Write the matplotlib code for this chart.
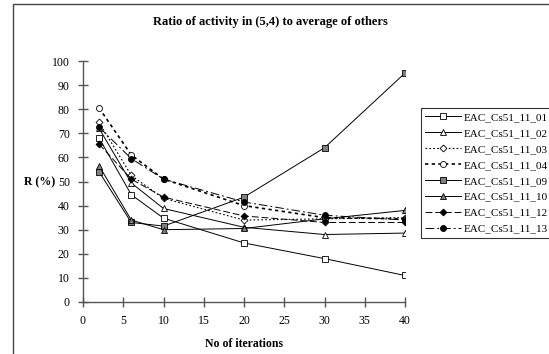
import matplotlib
matplotlib.use("Agg")
import matplotlib.pyplot as plt
from matplotlib.patches import Rectangle

plt.rcParams['font.family'] = ['Liberation Serif', 'DejaVu Serif']

# data
iterations = [2, 6, 10, 20, 30, 40]
names = ['EAC_Cs51_11_01', 'EAC_Cs51_11_02', 'EAC_Cs51_11_03', 'EAC_Cs51_11_04',
         'EAC_Cs51_11_09', 'EAC_Cs51_11_10', 'EAC_Cs51_11_12', 'EAC_Cs51_11_13']
r01 = [68, 44.5, 34.8, 24.5, 18, 11]
r02 = [72, 49.4, 38.8, 31, 28, 28.6]
r03 = [74.5, 52.5, 43, 34, 34.5, 35]
r04 = [80.5, 61, 51, 40, 35, 34.5]
r09 = [54, 33, 31.5, 43.5, 64, 95]
r10 = [56.5, 34, 30, 30.5, 34.5, 38]
r12 = [65.5, 51, 43.5, 35.7, 33, 33]
r13 = [72.5, 59.5, 51, 41.5, 36, 34]
series = [r01, r02, r03, r04, r09, r10, r12, r13]

styles = [
    dict(marker='s', mfc='white', ls='-', lw=0.7),
    dict(marker='^', mfc='white', ls='-', lw=0.7),
    dict(marker='D', mfc='white', ls=(0, (1.5, 2)), lw=0.8, ms=3.5),
    dict(marker='o', mfc='white', ls=(0, (2, 2)), lw=1.2),
    dict(marker='s', mfc='#808080', ls='-', lw=0.7),
    dict(marker='^', mfc='#808080', ls='-', lw=0.7),
    dict(marker='D', mfc='black', ls=(0, (7, 3)), lw=0.7, ms=3.5),
    dict(marker='o', mfc='black', ls=(0, (9, 3, 2, 3)), lw=0.7),
]

fig = plt.figure(figsize=(5.49, 3.54), dpi=100)
ax = fig.add_axes([83 / 549, 52 / 354, 322 / 549, 241 / 354])

for name, vals, st in zip(names, series, styles):
    st = dict(st)
    ms = st.pop('ms', 4.3)
    ax.plot(iterations, vals, color='black', mec='black', ms=ms, mew=0.6,
            label=name, **st)

ax.set_xlim(0, 40)
ax.set_ylim(0, 100)
ax.set_xticks(range(0, 41, 5))
ax.set_yticks(range(0, 101, 10))
for s in ['top', 'right']:
    ax.spines[s].set_visible(False)
for s in ['left', 'bottom']:
    ax.spines[s].set_color('#555555')
    ax.spines[s].set_linewidth(1.0)
ax.tick_params(direction='inout', length=7, width=1, color='#555555',
               labelsize=8.5, pad=6)

ax.set_xlabel('No of iterations', fontsize=8.5, fontweight='bold', labelpad=8)
fig.text(40 / 549, 1 - 182 / 354, 'R (%)', ha='center', va='center',
         fontsize=8.5, fontweight='bold')
fig.text(270 / 549, 1 - 22 / 354, 'Ratio of activity in (5,4) to average of others',
         ha='center', va='center', fontsize=9, fontweight='bold')

leg = ax.legend(loc='upper left', bbox_to_anchor=(421 / 549, 1 - 108 / 354),
                bbox_transform=fig.transFigure, fontsize=8, frameon=True,
                fancybox=False, edgecolor='black', handlelength=3.2,
                handletextpad=0.2, labelspacing=0.55, borderpad=0.4,
                borderaxespad=0)
leg.get_frame().set_linewidth(0.8)

fig.patches.append(Rectangle((13 / 549, -0.1), 2, 1 - 4 / 354 + 0.1,
                             transform=fig.transFigure, fill=False,
                             edgecolor='#444444', lw=1))

fig.savefig('out.png', dpi=100)
